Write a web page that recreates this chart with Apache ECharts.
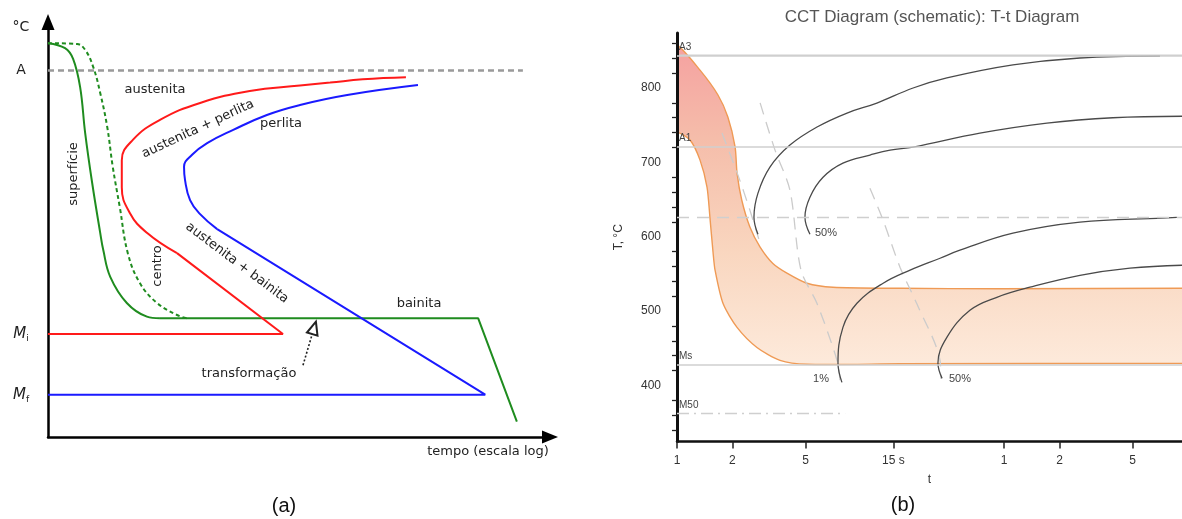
<!DOCTYPE html>
<html><head><meta charset="utf-8">
<script src="https://cdn.jsdelivr.net/npm/echarts@6/dist/echarts.min.js"></script>
<style>html,body{margin:0;padding:0;background:#fff}#c{width:1182px;height:519px}</style>
</head><body><div id="c"></div>
<script>
// ================= Panel (a): schematic TTT, arbitrary units (time 0-100, temperature 0-100)
const superficie = [[0,94.9],[3.4,93.7],[5.0,91.1],[6.4,84.3],[7.4,73.3],[8.8,61.2],[10.4,49.2],[11.0,45.1],[12.4,38.6],[15.7,32.3],[19.7,29.0],[22.3,28.6]];
const bainitaLine = [[22.3,28.6],[85.7,28.6],[93.4,3.7]];
const centro = [[0,94.9],[5.8,94.7],[7.4,93.3],[9.0,89.2],[10.4,82.9],[11.8,74.7],[12.9,65.1],[14.3,55.4],[15.9,44.3],[18.3,37.1],[21.7,32.3],[25.7,29.4],[27.7,28.6]];
const perlitaStart = [[71.3,86.7],[62.7,86.2],[56.2,85.4],[50.2,84.7],[40.2,83.4],[30.3,80.5],[22.3,76.4],[16.9,71.6],[14.7,66.7],[14.7,60.2],[16.3,54.0],[19.7,49.2],[25.7,44.3]];
const perlitaStartTail = [[25.7,44.3],[46.8,24.8],[0,24.8]];
const perlitaEnd = [[73.7,84.8],[59.6,82.4],[50.2,80.0],[43.6,77.6],[36.9,74.0],[31.7,70.8],[28.7,68.0],[27.1,65.1],[27.3,61.9],[28.3,57.1],[30.3,53.7],[33.7,50.1]];
const perlitaEndTail = [[33.7,50.1],[87.1,10.2],[0,10.2]];
const tempA = 88.3, tempMi = 24.8, tempMf = 10.2;
const aLineEnd = 94.6;
const arrowFrom = [50.8,17.3], arrowTo = [53.0,26.3];

// ================= Panel (b): CCT diagram, t in s (log), T in °C
const bandUpper = [[0.8,862],[1,858],[1.334,824],[1.67,790.6],[1.89,761],[2.07,720.5],[2.12,685.5],[2.25,649],[2.49,613],[2.83,586],[3.32,564],[3.96,551],[5.09,537.4],[7.04,532],[16.3,530.6],[56.9,530],[556,530.6],[800,530.6]];
const bandLower = [[0.8,744],[1,740.7],[1.177,730],[1.334,703],[1.456,666.7],[1.51,626],[1.57,579],[1.61,555],[1.78,510],[2.12,478],[2.72,451],[3.63,433.7],[5.09,428.4],[16.3,429],[556,429.6],[800,429.6]];
const pearlite1 = [[2.755,603.4],[2.62,626.3],[2.755,658.6],[3.20,693.6],[4.11,723.2],[5.77,747.5],[8.40,766.3],[12.2,779.8],[19.2,800],[29.3,813.5],[67,831],[155,840.4],[422,843]];
const pearlite50 = [[5.28,603.4],[4.96,626.3],[5.28,653.2],[6.22,680],[7.98,699],[11.2,709.8],[14.4,716.5],[19.2,720.5],[44.3,739.4],[102.5,752.9],[234,760],[556,762]];
const bainite1 = [[7.88,404],[7.5,429.6],[7.98,478],[9.51,510.4],[13.2,537.4],[18.5,555],[26.9,571],[34.5,581.8],[67,604.7],[155,619.5],[438,625],[521,626]];
const bainite50 = [[27.6,409.4],[26.2,429.6],[29.3,464.6],[39.1,501],[54.8,518.5],[82.9,532],[155,548],[290,557.6],[556,561.6]];
const cooling1 = [[1.756,739.4],[2.145,682.8],[2.49,635.7],[2.83,591]];
const cooling2 = [[2.83,780],[3.41,716.5],[4.11,662.6],[4.72,555],[5.77,510],[7.41,433.7],[7.69,407]];
const cooling3 = [[11.19,665],[13.2,622],[16.3,559],[20.1,510],[26.9,433.7],[27.2,409]];
const tempA3 = 844, tempA1 = 721, tempNose = 626, tempMs = 428.3, tempM50 = 362.7, m50End = 8.2;
const xTickVals = [1,2,5,15,60,120,300];
const xTickLabels = ['1','2','5','15 s','1','2','5'];
const yLabelVals = [400,500,600,700,800];
const yMinorVals = [340,360,380,420,440,460,480,520,540,560,580,620,640,660,680,720,740,760,780,820,840,860];

const FA = '"DejaVu Sans", Verdana, sans-serif';
const FB = '"Liberation Sans", Arial, sans-serif';
const GREEN = '#1f8c1f', RED = '#ff1a1a', BLUE = '#1a1aff';

const chart = echarts.init(document.getElementById('c'));

function lineS(data, color, width, extra) {
  return Object.assign({type:'line', xAxisIndex:0, yAxisIndex:0, data, showSymbol:false, symbol:'none', silent:true,
    lineStyle:{color, width}}, extra || {});
}
function lineB(data, style, extra) {
  return Object.assign({type:'line', xAxisIndex:1, yAxisIndex:1, data, showSymbol:false, symbol:'none', silent:true,
    smooth:0.4, lineStyle:style}, extra || {});
}
const curveStyle = {color:'#4a4a4a', width:1.3};
const coolStyle = {color:'#cbcbcb', width:1.3, type:[12,8]};

function txt(text, x, y, font, fill, extra) {
  return Object.assign({type:'text', x, y, style:{text, font, fill:fill || '#222', align:'center', verticalAlign:'middle'}}, extra || {});
}

const option = {
  animation:false,
  backgroundColor:'#fff',
  grid:[
    {left:48, top:22, width:502, height:415, outerBoundsMode:'none', containLabel:false},
    {left:677, top:33, right:0, bottom:77.5, outerBoundsMode:'none', containLabel:false}
  ],
  xAxis:[
    {gridIndex:0, type:'value', min:0, max:100, z:3,
     axisLine:{show:true, onZero:false, symbol:['none','triangle'], symbolSize:[13,16], lineStyle:{color:'#000', width:2.5}},
     axisTick:{show:false}, axisLabel:{show:false}, splitLine:{show:false}},
    {gridIndex:1, type:'log', logBase:10, min:1, max:556, z:3,
     axisLine:{show:true, onZero:false, lineStyle:{color:'#111', width:2.5}},
     axisTick:{show:true, customValues:xTickVals, length:7, lineStyle:{color:'#222', width:1.5}},
     axisLabel:{show:true, customValues:xTickVals, color:'#333', fontSize:12, fontFamily:FB, margin:13,
       formatter:(v)=>{const i = xTickVals.findIndex(t=>Math.abs(t-v)/t<1e-3); return i>=0 ? xTickLabels[i] : '';}},
     splitLine:{show:false}, minorTick:{show:false},
     name:'t', nameLocation:'middle', nameGap:32, nameTextStyle:{color:'#333', fontSize:12, fontFamily:FB}}
  ],
  yAxis:[
    {gridIndex:0, type:'value', min:0, max:100, z:3,
     axisLine:{show:true, onZero:false, symbol:['none','triangle'], symbolSize:[13,16], lineStyle:{color:'#000', width:2.5}},
     axisTick:{show:false}, splitLine:{show:false},
     axisLabel:{show:true, customValues:[tempA, tempMi, tempMf], margin:27, align:'center',
       formatter:(v)=> Math.abs(v-tempA)<0.01 ? '{a|A}' : (Math.abs(v-tempMi)<0.01 ? '{m|M}{s|i}' : '{m|M}{s|f}'),
       rich:{a:{fontSize:14, fontFamily:FA, color:'#222'}, m:{fontSize:15, fontFamily:FA, fontStyle:'italic', color:'#222'}, s:{fontSize:9, fontFamily:FA, color:'#222', padding:[10,0,0,0]}}}},
    {gridIndex:1, type:'value', min:324.5, max:874, z:3,
     axisLine:{show:true, onZero:false, lineStyle:{color:'#111', width:3}},
     axisTick:{show:true, customValues:yMinorVals, length:5, lineStyle:{color:'#222', width:1.3}},
     axisLabel:{show:true, customValues:yLabelVals, color:'#333', fontSize:12, fontFamily:FB, margin:16},
     splitLine:{show:false},
     name:'T, °C', nameLocation:'middle', nameGap:52, nameRotate:90, nameTextStyle:{color:'#333', fontSize:12, fontFamily:FB}},
    {gridIndex:1, type:'value', min:324.5, max:874, z:3,
     axisLine:{show:false}, axisLabel:{show:false}, splitLine:{show:false},
     axisTick:{show:true, customValues:yLabelVals, length:9, lineStyle:{color:'#222', width:1.5}}}
  ],
  series:[
    // ---- panel (a)
    lineS([[0,tempA],[aLineEnd,tempA]], '#9a9a9a', 2.5, {lineStyle:{color:'#9a9a9a', width:2.5, type:[6,4]},
      markLine:{silent:true, animation:false, symbol:['none','emptyTriangle'], symbolSize:[11,13],
        label:{show:false}, lineStyle:{type:[2,2], color:'#222', width:1.6},
        data:[[{coord:arrowFrom},{coord:arrowTo}]]}}),
    lineS(superficie, GREEN, 2, {smooth:0.4}),
    lineS(bainitaLine, GREEN, 2),
    lineS(centro, GREEN, 2, {smooth:0.4, lineStyle:{color:GREEN, width:2, type:[4,3]}}),
    lineS(perlitaStart, RED, 2, {smooth:0.45}),
    lineS(perlitaStartTail, RED, 2),
    lineS(perlitaEnd, BLUE, 2, {smooth:0.45}),
    lineS(perlitaEndTail, BLUE, 2),
    // ---- panel (b)
    {type:'custom', xAxisIndex:1, yAxisIndex:1, clip:true, z:1, silent:true, data:[0],
     renderItem:(params, api)=>{
       const up = bandUpper.map(p=>api.coord(p));
       const lo = bandLower.map(p=>api.coord(p));
       const poly = up.concat(lo.slice().reverse());
       const ys = poly.map(p=>p[1]);
       const y0 = Math.min.apply(null, ys), y1 = Math.max.apply(null, ys);
       return {type:'group', children:[
         {type:'polygon', shape:{points:poly, smooth:0.25}, style:{
           fill:new echarts.graphic.LinearGradient(0,y0,0,y1,[
             {offset:0,color:'#f5a0a0'},{offset:0.3,color:'#f5bdaa'},{offset:0.65,color:'#f9d6bf'},{offset:1,color:'#fdeadb'}], true),
           stroke:null}},
         {type:'polyline', shape:{points:up, smooth:0.25}, style:{stroke:'#ef9a55', lineWidth:1.4, fill:null}},
         {type:'polyline', shape:{points:lo, smooth:0.25}, style:{stroke:'#ef9a55', lineWidth:1.4, fill:null}}
       ]};
     }},
    lineB([[1,tempA3],[556,tempA3]], {color:'#cfcfcf', width:1.6}, {smooth:false, z:2,
      markLine:{silent:true, animation:false, symbol:['none','none'],
        label:{show:true, position:'insideStartTop', color:'#444', fontSize:10, fontFamily:FB, distance:[2,3]},
        lineStyle:{color:'#cfcfcf', width:1.6, type:'solid'},
        data:[
          {yAxis:tempA3, label:{formatter:'A3'}},
          {yAxis:tempA1, label:{formatter:'A1'}},
          {yAxis:tempNose, label:{show:false}, lineStyle:{type:[12,8], color:'#cfcfcf', width:1.4}},
          {yAxis:tempMs, label:{formatter:'Ms'}},
          [{coord:[1,tempM50], label:{formatter:'M50'}, lineStyle:{type:[12,5,2,5], color:'#cfcfcf', width:1.4}},{coord:[m50End,tempM50]}]
        ]}}),
    lineB(cooling1, coolStyle, {smooth:0.3}),
    lineB(cooling2, coolStyle, {smooth:0.3}),
    lineB(cooling3, coolStyle, {smooth:0.3}),
    lineB(pearlite1, curveStyle),
    lineB(pearlite50, curveStyle),
    lineB(bainite1, curveStyle),
    lineB(bainite50, curveStyle)
  ],
  graphic:[
    txt('°C', 21, 27, '14px '+FA),
    txt('austenita', 155, 90, '13px '+FA),
    txt('austenita + perlita', 198, 129, '13px '+FA, null, {rotation:0.436}),
    txt('perlita', 281, 124, '13px '+FA),
    txt('superfície', 74, 174, '13px '+FA, null, {rotation:Math.PI/2}),
    txt('centro', 158, 266, '13px '+FA, null, {rotation:Math.PI/2}),
    txt('austenita + bainita', 237, 263, '13px '+FA, null, {rotation:-0.646}),
    txt('bainita', 419, 304, '13px '+FA),
    txt('transformação', 249, 374, '13px '+FA),
    txt('tempo (escala log)', 488, 452, '13px '+FA),
    txt('(a)', 284, 506, '20px '+FB, '#111'),
    txt('CCT Diagram (schematic): T-t Diagram', 932, 17, '17px '+FB, '#555'),
    txt('(b)', 903, 505, '20px '+FB, '#111'),
    txt('1%', 738, 233, '11px '+FB, '#444'),
    txt('50%', 826, 233, '11px '+FB, '#444'),
    txt('1%', 821, 379, '11px '+FB, '#444'),
    txt('50%', 960, 379, '11px '+FB, '#444'),
    txt('Região de', 1110, 340, 'italic bold 11px '+FA, '#111'),
    txt('Tratamento Térmico', 1111, 357, 'italic bold 11px '+FA, '#111')
  ]
};
chart.setOption(option);
</script>
</body></html>
